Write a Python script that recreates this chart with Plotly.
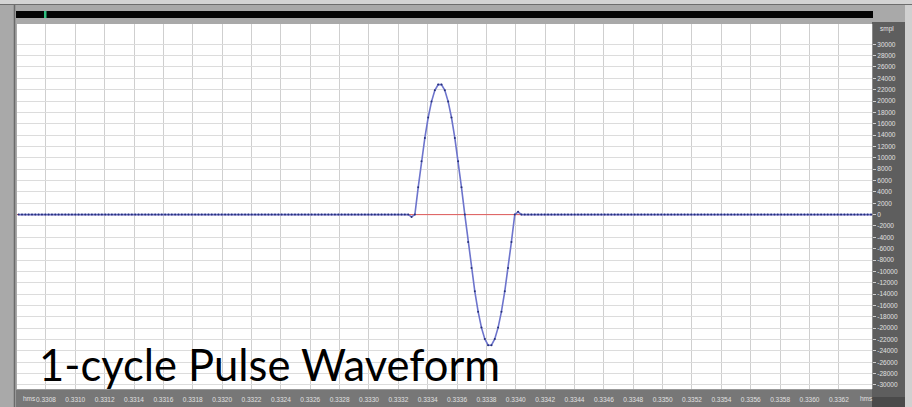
import plotly.graph_objects as go

# ---------------- data ----------------
sample_rate = 44100
view_start = 0.330603          # seconds at left edge of view
view_end = 0.336426            # seconds at right edge of view
pulse_first_sample_time = 0.333290
pre_silence_samples = 118      # silent samples before the pulse
post_silence_samples = 110     # silent samples after the pulse
silence_value = 0
pulse_values = [-400, 0, 4800, 9400, 13500, 17100, 19900, 21900, 22900, 22900,
                21900, 19900, 17100, 13500, 9400, 4800, 0, -4800, -9400, -13500,
                -17100, -19900, -21900, -23000, -23000, -21900, -19900, -17100,
                -13500, -9400, -4800, 0, 500]
x_tick_labels = ["0.3308", "0.3310", "0.3312", "0.3314", "0.3316", "0.3318", "0.3320",
                 "0.3322", "0.3324", "0.3326", "0.3328", "0.3330", "0.3332", "0.3334",
                 "0.3336", "0.3338", "0.3340", "0.3342", "0.3344", "0.3346", "0.3348",
                 "0.3350", "0.3352", "0.3354", "0.3356", "0.3358", "0.3360", "0.3362"]
y_tick_values = [30000, 28000, 26000, 24000, 22000, 20000, 18000, 16000, 14000, 12000,
                 10000, 8000, 6000, 4000, 2000, 0, -2000, -4000, -6000, -8000, -10000,
                 -12000, -14000, -16000, -18000, -20000, -22000, -24000, -26000,
                 -28000, -30000]
y_range = [-30710, 33570]
title_text = "1-cycle Pulse Waveform"

# ---------------- build the sample series ----------------
values = ([silence_value] * pre_silence_samples + pulse_values
          + [silence_value] * post_silence_samples)
t_first = pulse_first_sample_time - pre_silence_samples / sample_rate
times = [t_first + i / sample_rate for i in range(len(values))]

# ---------------- geometry ----------------
W, H = 912, 407
L, R, T, B = 17, 40, 24, 18
PW, PH = W - L - R, H - T - B


def px(x):
    return (x - L) / PW


def py(y):
    return (H - B - y) / PH


fig = go.Figure()
# red centre line
fig.add_trace(go.Scatter(
    x=[view_start, view_end], y=[silence_value, silence_value], mode="lines",
    line=dict(color="#e05a5a", width=1), hoverinfo="skip", showlegend=False))
# waveform
fig.add_trace(go.Scatter(
    x=times, y=values, mode="lines+markers",
    line=dict(color="#6d74cc", width=1.6),
    marker=dict(color="#27317a", size=2),
    hoverinfo="skip", showlegend=False))

shapes = []
# top strips
shapes.append(dict(type="rect", xref="paper", yref="paper", x0=px(0), x1=px(W),
                   y0=py(0), y1=py(4), fillcolor="#d4d4d4", line=dict(width=0), layer="below"))
shapes.append(dict(type="line", xref="paper", yref="paper", x0=px(0), x1=px(W),
                   y0=py(4.5), y1=py(4.5), line=dict(color="#6e6e6e", width=1), layer="below"))
shapes.append(dict(type="rect", xref="paper", yref="paper", x0=px(16), x1=px(873),
                   y0=py(11), y1=py(18), fillcolor="#050505", line=dict(width=0), layer="below"))
shapes.append(dict(type="rect", xref="paper", yref="paper", x0=px(44), x1=px(46.5),
                   y0=py(11), y1=py(18), fillcolor="#2fbf80", line=dict(width=0), layer="below"))
# left border line
shapes.append(dict(type="line", xref="paper", yref="paper", x0=px(14.5), x1=px(14.5),
                   y0=py(5), y1=py(H), line=dict(color="#6a6a6a", width=1.5), layer="below"))
# right axis panel
shapes.append(dict(type="rect", xref="paper", yref="paper", x0=px(872), x1=px(905),
                   y0=py(22), y1=py(H), fillcolor="#5e5e5e", line=dict(width=0), layer="below"))
shapes.append(dict(type="rect", xref="paper", yref="paper", x0=px(905), x1=px(W),
                   y0=py(5), y1=py(H), fillcolor="#d0d0d0", line=dict(width=0), layer="below"))
# bottom time ruler
shapes.append(dict(type="rect", xref="paper", yref="paper", x0=px(16), x1=px(872),
                   y0=py(389), y1=py(H), fillcolor="#777777", line=dict(width=0), layer="below"))
shapes.append(dict(type="line", xref="paper", yref="paper", x0=px(16), x1=px(872),
                   y0=py(389.5), y1=py(389.5), line=dict(color="#9a9a9a", width=1), layer="below"))
shapes.append(dict(type="rect", xref="paper", yref="paper", x0=px(872), x1=px(905),
                   y0=py(397), y1=py(H), fillcolor="#4a4a4a", line=dict(width=0), layer="below"))

small_font = dict(family="Liberation Sans, Arial", size=6.5, color="#e0e0e0")
annotations = [
    dict(text=title_text, xref="paper", yref="paper", x=px(37), y=py(364),
         xanchor="left", yanchor="middle", showarrow=False,
         font=dict(family="Lato, Open Sans, sans-serif", size=43.5, color="#000000")),
    dict(text="smpl", xref="paper", yref="paper", x=px(878), y=py(29),
         xanchor="left", yanchor="middle", showarrow=False, font=small_font),
    dict(text="hms", xref="paper", yref="paper", x=px(21), y=py(398),
         xanchor="left", yanchor="middle", showarrow=False, font=small_font),
    dict(text="hms", xref="paper", yref="paper", x=px(858), y=py(398),
         xanchor="left", yanchor="middle", showarrow=False, font=small_font),
]

x_tick_values = [float(s) for s in x_tick_labels]

fig.update_layout(
    width=W, height=H,
    margin=dict(l=L, r=R, t=T, b=B, pad=0, autoexpand=False),
    paper_bgcolor="#a9a9a9", plot_bgcolor="#ffffff",
    shapes=shapes, annotations=annotations, showlegend=False,
    xaxis=dict(range=[view_start, view_end], tickvals=x_tick_values, ticktext=x_tick_labels,
               showgrid=True, gridcolor="#cfcfcf", gridwidth=1, zeroline=False,
               ticks="outside", ticklen=4, tickcolor="#777777", showline=False,
               automargin=False, tickfont=small_font, fixedrange=True),
    yaxis=dict(range=y_range, side="right", tickvals=y_tick_values,
               ticktext=[str(v) for v in y_tick_values],
               showgrid=True, gridcolor="#dcdcdc", gridwidth=1, zeroline=False,
               ticks="outside", ticklen=3, tickcolor="#cfcfcf",
               showline=True, linecolor="#8a8a8a", linewidth=1,
               automargin=False, tickfont=small_font, fixedrange=True),
)

fig.write_html("out.html")
